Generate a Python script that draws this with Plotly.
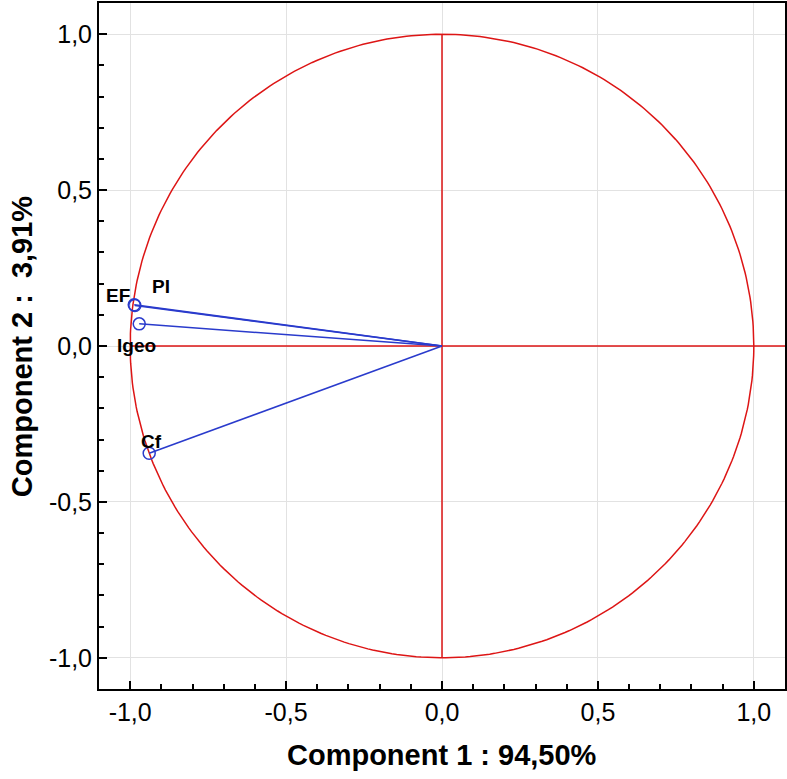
import numpy as np
import plotly.graph_objects as go

# factor coordinates of the variables
variables = ["EF", "PI", "Igeo", "Cf"]
comp1 = [-0.987, -0.985, -0.971, -0.939]
comp2 = [0.132, 0.130, 0.071, -0.344]

ticks = [-1.0, -0.5, 0.0, 0.5, 1.0]
tick_labels = ["-1,0", "-0,5", "0,0", "0,5", "1,0"]

FONT = "Liberation Sans, Arial"

fig = go.Figure()

# unit circle
t = np.linspace(0, 2 * np.pi, 400)
fig.add_trace(go.Scatter(x=np.cos(t), y=np.sin(t), mode="lines",
                         line=dict(color="#dd1515", width=1.5), hoverinfo="skip"))
# axes through origin
fig.add_trace(go.Scatter(x=[0, 0], y=[-1, 1], mode="lines",
                         line=dict(color="#dd1515", width=1.5), hoverinfo="skip"))
fig.add_trace(go.Scatter(x=[-1, 1.1], y=[0, 0], mode="lines",
                         line=dict(color="#dd1515", width=1.5), hoverinfo="skip"))

# vectors from origin
for vx, vy in zip(comp1, comp2):
    fig.add_trace(go.Scatter(x=[0, vx], y=[0, vy], mode="lines",
                             line=dict(color="#2a3bcc", width=1.5), hoverinfo="skip"))

fig.add_trace(go.Scatter(x=comp1, y=comp2, mode="markers",
                         marker=dict(symbol="circle-open", size=12, color="#2a3bcc",
                                     line=dict(width=1.5)),
                         text=variables, hovertemplate="%{text}<extra></extra>"))

offsets = {"EF": (-16, 9), "PI": (26, 19), "Igeo": (-3, -22), "Cf": (2, 12)}
for name, vx, vy in zip(variables, comp1, comp2):
    dx, dy = offsets[name]
    fig.add_annotation(x=vx, y=vy, text="<b>%s</b>" % name, showarrow=False,
                       xshift=dx, yshift=dy,
                       font=dict(family=FONT, size=19, color="black"))

axis_common = dict(range=[-1.1, 1.1], tickvals=ticks, ticktext=tick_labels,
                   showgrid=True, gridcolor="#e2e2e2", gridwidth=1, zeroline=False,
                   showline=True, linecolor="black", linewidth=2, mirror=True,
                   ticks="inside", ticklen=8, tickwidth=1.5, tickcolor="black",
                   minor=dict(dtick=0.1, ticks="inside", ticklen=5, tickcolor="black",
                              showgrid=False),
                   automargin=False,
                   tickfont=dict(family=FONT, size=25, color="black"))

fig.update_xaxes(**axis_common)
fig.update_yaxes(**axis_common)

# axis titles
fig.add_annotation(xref="paper", yref="paper", x=0.5, y=-0.096, yanchor="middle",
                   text="<b>Component 1 : 94,50%</b>", showarrow=False,
                   font=dict(family=FONT, size=29, color="black"))
fig.add_annotation(xref="paper", yref="paper", x=-0.112, y=0.5, xanchor="center",
                   textangle=-90, text="<b>Component 2 :  3,91%</b>", showarrow=False,
                   font=dict(family=FONT, size=29, color="black"))

fig.update_layout(width=787, height=779, showlegend=False,
                  plot_bgcolor="white", paper_bgcolor="white",
                  margin=dict(l=99, r=2, t=3, b=90))

fig.write_html("out.html", config={"displayModeBar": False},
               post_script="document.body.style.margin='0';")
